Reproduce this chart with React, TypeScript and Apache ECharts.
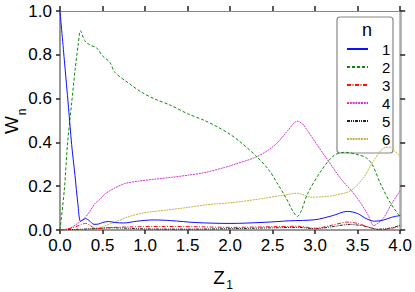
import React, { useEffect, useRef } from "react";
import * as echarts from "echarts";

const seriesNames = ["1", "2", "3", "4", "5", "6"];
const xTicks = { min: 0, max: 4, interval: 0.5 };
const yTicks = { min: 0, max: 1, interval: 0.2 };

const w1: [number, number][] = [
  [0, 1.0], [0.05, 0.78], [0.1, 0.56], [0.137, 0.39], [0.176, 0.25], [0.21, 0.12], [0.24, 0.04],
  [0.27, 0.046], [0.3, 0.052], [0.34, 0.044], [0.4, 0.026], [0.45, 0.027], [0.5, 0.034],
  [0.57, 0.039], [0.65, 0.034], [0.75, 0.032], [0.9, 0.04], [1.1, 0.046], [1.3, 0.043],
  [1.6, 0.034], [2.0, 0.03], [2.4, 0.035], [2.7, 0.042], [3.0, 0.047], [3.2, 0.065],
  [3.38, 0.085], [3.5, 0.075], [3.6, 0.052], [3.7, 0.04], [3.8, 0.045], [3.9, 0.058], [4.0, 0.066],
];
const w2: [number, number][] = [
  [0, 0], [0.05, 0.18], [0.09, 0.4], [0.137, 0.58], [0.18, 0.74], [0.215, 0.85], [0.24, 0.91],
  [0.29, 0.865], [0.35, 0.845], [0.43, 0.832], [0.5, 0.795], [0.586, 0.766], [0.645, 0.72],
  [0.82, 0.667], [0.96, 0.629], [1.11, 0.599], [1.31, 0.568], [1.5, 0.531], [1.7, 0.5],
  [1.86, 0.469], [2.0, 0.437], [2.11, 0.405], [2.3, 0.34], [2.46, 0.272], [2.56, 0.21],
  [2.66, 0.145], [2.74, 0.085], [2.79, 0.062], [2.84, 0.09], [2.91, 0.165], [3.07, 0.27],
  [3.22, 0.34], [3.35, 0.355], [3.52, 0.342], [3.6, 0.33], [3.67, 0.3], [3.77, 0.21],
  [3.89, 0.12], [4.0, 0.06],
];
const w3: [number, number][] = [
  [0, 0], [0.15, 0.01], [0.25, 0.025], [0.3, 0.03], [0.35, 0.022], [0.42, 0.006], [0.55, 0.01],
  [0.8, 0.014], [1.2, 0.016], [1.6, 0.015], [2.0, 0.012], [2.5, 0.015], [2.8, 0.017],
  [3.0, 0.008], [3.2, 0.022], [3.38, 0.036], [3.5, 0.03], [3.65, 0.01], [3.77, 0.0],
  [3.9, 0.008], [4.0, 0.016],
];
const w4: [number, number][] = [
  [0, 0], [0.1, 0.005], [0.2, 0.028], [0.29, 0.055], [0.35, 0.085], [0.41, 0.12], [0.47, 0.14],
  [0.53, 0.165], [0.645, 0.192], [0.76, 0.212], [0.92, 0.223], [1.11, 0.232], [1.3, 0.24],
  [1.5, 0.25], [1.7, 0.262], [1.93, 0.285], [2.07, 0.302], [2.3, 0.332], [2.45, 0.365],
  [2.56, 0.4], [2.68, 0.455], [2.79, 0.497], [2.85, 0.485], [2.91, 0.454], [3.0, 0.402],
  [3.11, 0.34], [3.2, 0.29], [3.3, 0.235], [3.44, 0.173], [3.54, 0.12], [3.62, 0.07],
  [3.69, 0.02], [3.75, 0.035], [3.81, 0.058], [3.9, 0.12], [4.0, 0.18],
];
const w5: [number, number][] = [
  [0, 0], [0.2, 0.003], [0.4, 0.006], [0.6, 0.01], [0.8, 0.008], [1.0, 0.005], [1.5, 0.004],
  [2.0, 0.006], [2.5, 0.01], [2.8, 0.012], [3.0, 0.006], [3.2, 0.015], [3.4, 0.025],
  [3.55, 0.02], [3.75, 0.004], [3.9, 0.01], [4.0, 0.022],
];
const w6: [number, number][] = [
  [0, 0], [0.2, 0.0], [0.41, 0.008], [0.5, 0.015], [0.645, 0.036], [0.8, 0.06], [1.0, 0.079],
  [1.25, 0.091], [1.5, 0.103], [1.72, 0.115], [2.07, 0.127], [2.4, 0.145], [2.64, 0.16],
  [2.79, 0.168], [2.95, 0.15], [3.1, 0.152], [3.22, 0.158], [3.42, 0.18], [3.57, 0.24],
  [3.69, 0.317], [3.81, 0.375], [3.88, 0.378], [3.93, 0.363], [4.0, 0.335],
];

const seriesData = [w1, w2, w3, w4, w5, w6];
const colors = ["#1010ff", "#0a8a0a", "#ff1010", "#d633d6", "#222222", "#c4b440"];
const dashes: any[] = [
  "solid",
  [3, 2],
  [4, 1.5, 1, 1.5],
  [2, 0.8],
  [3, 1, 1, 1, 1, 1],
  [2, 0.8],
];

const FONT = "Liberation Sans, Arial, sans-serif";

export default function App() {
  const ref = useRef<HTMLDivElement>(null);
  useEffect(() => {
    if (!ref.current) return;
    const chart = echarts.init(ref.current, undefined, { renderer: "svg" });
    const fmt = (v: number) => v.toFixed(1);
    const baseAxisLine = { lineStyle: { color: "#999", width: 2 }, onZero: false };
    const tick = { show: true, inside: false, length: 4, lineStyle: { color: "#222", width: 1.5 } };
    const label = { fontSize: 17, color: "#000", fontFamily: FONT, formatter: fmt };
    chart.setOption({
      animation: false,
      grid: { left: 60, right: 14, top: 11, bottom: 62, containLabel: false },
      xAxis: [
        {
          type: "value", position: "bottom", ...xTicks,
          axisLine: baseAxisLine, axisTick: tick,
          axisLabel: { ...label, margin: 7 },
          splitLine: { show: false },
        },
        {
          type: "value", position: "top", ...xTicks,
          axisLine: { lineStyle: { color: "#888", width: 1 }, onZero: false },
          axisTick: { ...tick, length: 5 },
          axisLabel: { show: false },
          splitLine: { show: false },
        },
      ],
      yAxis: [
        {
          type: "value", position: "left", ...yTicks,
          axisLine: baseAxisLine, axisTick: tick,
          axisLabel: { ...label, margin: 8 },
          splitLine: { show: false },
        },
        {
          type: "value", position: "right", ...yTicks,
          axisLine: { lineStyle: { color: "#aaa", width: 2.5 }, onZero: false },
          axisTick: { ...tick, length: 5 },
          axisLabel: { show: false },
          splitLine: { show: false },
        },
      ],
      legend: {
        data: seriesNames,
        orient: "vertical",
        left: 346,
        top: 40,
        padding: 0,
        itemGap: 0,
        itemWidth: 21,
        itemHeight: 10,
        itemStyle: { opacity: 0, borderWidth: 0 },
        lineStyle: { width: 2 },
        textStyle: { fontSize: 15, lineHeight: 18, color: "#000", fontFamily: FONT, padding: [0, 0, 0, 9] },
      },
      series: seriesNames.map((name, i) => ({
        name,
        type: "line",
        xAxisIndex: 0,
        yAxisIndex: 0,
        data: seriesData[i],
        smooth: 0.3,
        symbol: "none",
        showSymbol: false,
        color: colors[i],
        lineStyle: { color: colors[i], width: 1, type: dashes[i] },
        z: 10 - i,
      })),
      graphic: [
        {
          type: "rect", z: 1,
          shape: { x: 337, y: 17, width: 56, height: 136, r: 3 },
          style: { fill: "#fff", stroke: "#888", lineWidth: 1.2 },
        },
        {
          type: "text", z: 2, x: 367, y: 30,
          style: { text: "n", fontSize: 18, fontFamily: FONT, fill: "#000", align: "center", verticalAlign: "middle" },
        },
        {
          type: "text", x: 11, y: 125, rotation: Math.PI / 2,
          style: { text: "W", fontSize: 19, fontFamily: FONT, fill: "#000", align: "center", verticalAlign: "middle" },
        },
        {
          type: "text", x: 21.5, y: 112, rotation: Math.PI / 2,
          style: { text: "n", fontSize: 12, fontFamily: FONT, fill: "#000", align: "center", verticalAlign: "middle" },
        },
        {
          type: "text", x: 219, y: 277,
          style: { text: "Z", fontSize: 19, fontFamily: FONT, fill: "#000", align: "center", verticalAlign: "middle" },
        },
        {
          type: "text", x: 229.5, y: 285,
          style: { text: "1", fontSize: 12, fontFamily: FONT, fill: "#000", align: "center", verticalAlign: "middle" },
        },
      ],
    });
    return () => chart.dispose();
  }, []);
  return (
    <div
      ref={ref}
      style={{ position: "fixed", left: 0, top: 0, width: 415, height: 292, background: "#fff" }}
    />
  );
}
